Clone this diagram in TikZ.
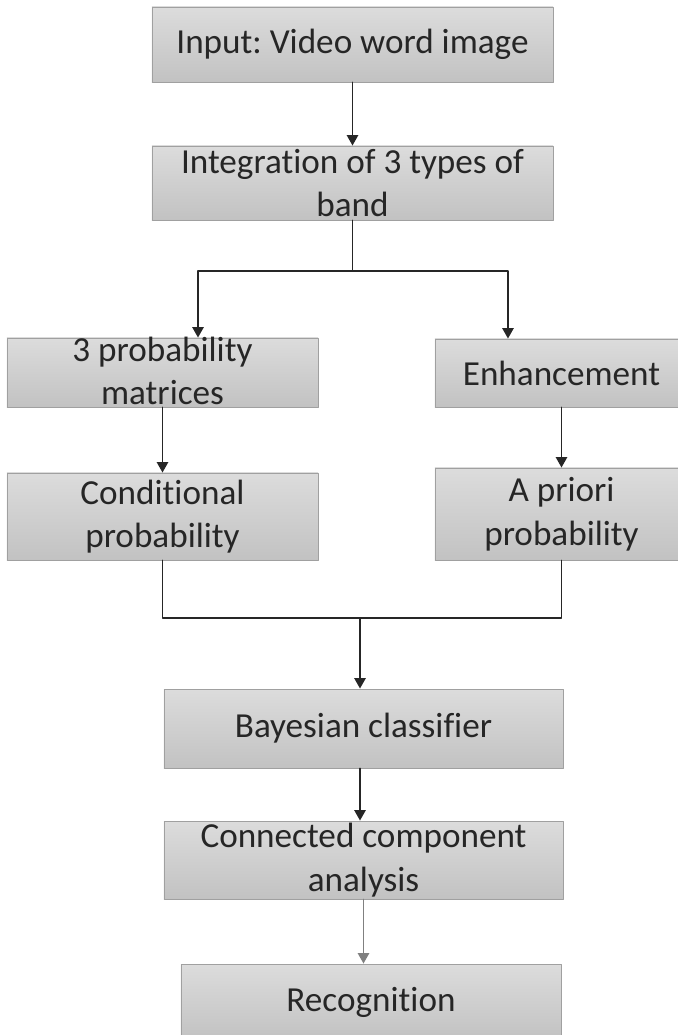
\documentclass[tikz,border=0pt]{standalone}
\usepackage{fontspec}
\setmainfont{Carlito}[Ligatures=NoCommon]
\usetikzlibrary{arrows.meta}

\definecolor{boxtop}{HTML}{DCDCDC}
\definecolor{boxbottom}{HTML}{C2C2C2}
\definecolor{boxedge}{HTML}{A0A0A0}
\definecolor{testo}{HTML}{262626}

\frenchspacing
\begin{document}
\begin{tikzpicture}[
    x=0.025cm, y=-0.025cm,
    line cap=round,
    line join=round,
    blocco/.style={draw=boxedge, line width=0.6pt, top color=boxtop,
        bottom color=boxbottom, inner sep=0pt, text=testo, align=center,
        font=\fontsize{25}{31}\selectfont},
    linea/.style={line width=1.3pt, draw=black!85},
    freccia/.style={linea, -{Triangle[length=2.6mm, width=2.8mm]}}
]
\useasboundingbox (0,0) rectangle (678,1035);

% Blocchi
\node[blocco, minimum width=10.025cm, minimum height=1.875cm] (input) at (352.5,44.5)
    {Input: Video word image};
\node[blocco, minimum width=10.025cm, minimum height=1.85cm] (band) at (352.5,183)
    {Integration of 3 types of\\band};
\node[blocco, minimum width=7.775cm, minimum height=1.725cm,
    text height=46pt, text depth=0pt] (prob) at (162.5,372.5)
    {3 probability\\matrices};
\node[blocco, minimum width=6.325cm, minimum height=1.7cm] (enh) at (561.5,373)
    {Enhancement};
\node[blocco, minimum width=7.775cm, minimum height=2.175cm] (cond) at (162.5,516.5)
    {Conditional\\probability};
\node[blocco, minimum width=6.325cm, minimum height=2.3cm] (prior) at (561.5,514)
    {A priori\\probability};
\node[blocco, minimum width=9.975cm, minimum height=1.975cm] (bayes) at (363.5,728.5)
    {Bayesian classifier};
\node[blocco, minimum width=9.975cm, minimum height=1.95cm] (cca) at (363.5,860)
    {Connected component\\analysis};
\node[blocco, minimum width=9.5cm, minimum height=1.9cm] (recog) at (371,1002)
    {Recognition};

% Punti di diramazione
\coordinate (fork) at (352.5,271);
\coordinate (join) at (360,618);

% Frecce
\draw[freccia] (input) -- (band);
\draw[linea] (band) -- (fork);
\draw[freccia] (fork) -| ([xshift=0.8875cm]prob.north);
\draw[freccia] (fork) -| ([xshift=-1.3375cm]enh.north);
\draw[freccia] (prob) -- (cond);
\draw[freccia] (enh) -- (prior);
\draw[linea] (cond.south) |- (join);
\draw[linea] (prior.south) |- (join);
\draw[freccia] (join) -- (join |- bayes.north);
\draw[freccia] (bayes.south -| join) -- (join |- cca.north);
\draw[freccia, draw=black!50] (cca.south) -- (cca.south |- recog.north);

\end{tikzpicture}
\end{document}
